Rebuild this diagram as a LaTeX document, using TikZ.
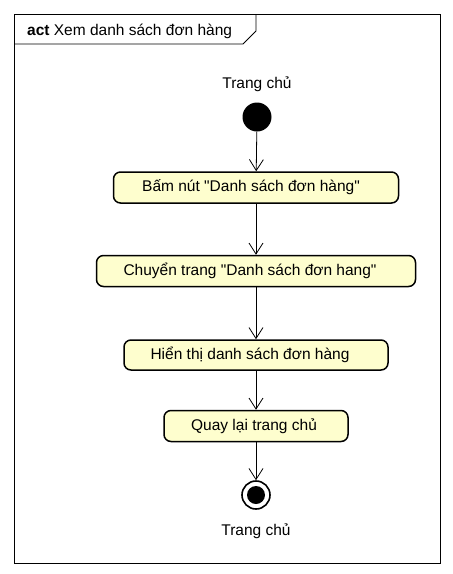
\documentclass[tikz,border=0pt]{standalone}
\usepackage{fontspec}
\setmainfont{Liberation Sans}
\usetikzlibrary{arrows.meta}
\definecolor{actfill}{HTML}{FEFECE}
\begin{document}
\begin{tikzpicture}[x=1pt,y=-1pt,
  actbox/.style={draw=black,line width=1.5pt,fill=actfill,rounded corners=7pt,inner sep=0pt,font=\fontsize{15.5}{18}\selectfont},
  lbl/.style={font=\fontsize{15.5}{18}\selectfont,inner sep=0pt},
  flow/.style={line width=0.8pt,-{Straight Barb[length=11pt,width=14pt,line width=0.8pt]}}]
\useasboundingbox (0,0) rectangle (453,574);
% frame
\draw[line width=0.8pt] (14,14) rectangle (440,563);
\draw[line width=0.8pt] (14,44) -- (243,44) -- (256,31) -- (256,14);
\node[lbl,anchor=west] (title) at (27,31) {\textbf{act} Xem danh sách đơn hàng};
% start
\node[lbl] (toplbl) at (257,84) {Trang chủ};
\node[circle,fill=black,minimum size=29pt,inner sep=0pt] (start) at (257,117) {};
% actions
\node[actbox,minimum width=285pt,minimum height=31pt] (a1) at (256,187.5) {\hspace*{-10pt}Bấm nút \textquotedbl Danh sách đơn hàng\textquotedbl};
\node[actbox,minimum width=319pt,minimum height=31pt] (a2) at (256,271) {\hspace*{-12pt}Chuyển trang \textquotedbl Danh sách đơn hang\textquotedbl};
\node[actbox,minimum width=264pt,minimum height=30pt] (a3) at (256,355) {\hspace*{-12pt}Hiển thị danh sách đơn hàng};
\node[actbox,minimum width=184pt,minimum height=31pt] (a4) at (256,426) {\hspace*{-4pt}Quay lại trang chủ};
% end
\node[circle,draw=black,line width=1.6pt,minimum size=28pt,inner sep=0pt] (end) at (256,495) {};
\node[circle,fill=black,minimum size=18pt,inner sep=0pt] (endin) at (256,495) {};
\node[lbl] (botlbl) at (256,531) {Trang chủ};
% flows
\draw[flow] (start) -- (a1);
\draw[flow] (a1) -- (a2);
\draw[flow] (a2) -- (a3);
\draw[flow] (a3) -- (a4);
\draw[flow] (a4) -- (end);
\end{tikzpicture}
\end{document}
